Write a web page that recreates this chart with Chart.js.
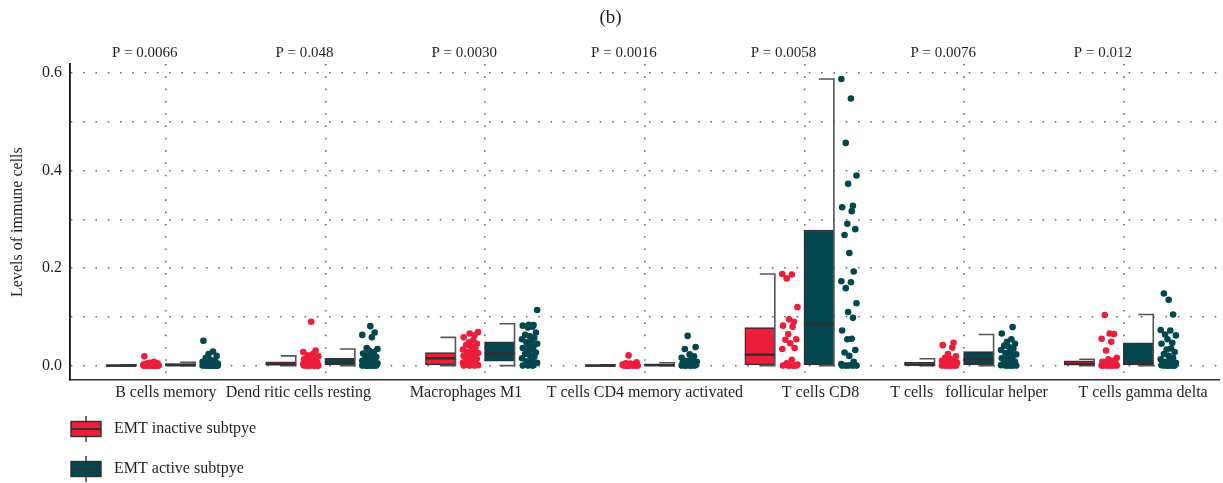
<!DOCTYPE html>
<html>
<head>
<meta charset="utf-8">
<script src="https://cdn.jsdelivr.net/npm/chart.js@4.4.1/dist/chart.umd.min.js"></script>
<style>
  html, body { margin: 0; padding: 0; background: #ffffff; }
  #wrap { width: 1223px; height: 483px; }
</style>
</head>
<body>
<div id="wrap"><canvas id="chart" width="1223" height="483"></canvas></div>
<script>
// ---- data -------------------------------------------------------------
const categories = [
  'B cells memory',
  'Dend ritic cells resting',
  'Macrophages M1',
  'T cells CD4 memory activated',
  'T cells CD8',
  'T cells   follicular helper',
  'T cells gamma delta'
];
const pValueLabels = ['P = 0.0066', 'P = 0.048', 'P = 0.0030', 'P = 0.0016', 'P = 0.0058', 'P = 0.0076', 'P = 0.012'];
const seriesNames = ['EMT inactive subtpye', 'EMT active subtpye'];

const yTickValues = [0, 0.1, 0.2, 0.3, 0.4, 0.5, 0.6];
const yTickLabels = ['0.0', '', '0.2', '', '0.4', '', '0.6'];

// box statistics, EMT inactive
const inactiveLow    = [0, 0, 0, 0, 0, 0, 0];
const inactiveQ1     = [0, 0, 0, 0, 0, 0, 0];
const inactiveMedian = [0, 0.003, 0.015, 0, 0.0225, 0.002, 0.0035];
const inactiveQ3     = [0.0015, 0.008, 0.0266, 0.0015, 0.078, 0.007, 0.0096];
const inactiveHigh   = [0.0015, 0.020, 0.058, 0.0015, 0.188, 0.014, 0.013];

// box statistics, EMT active
const activeLow    = [0, 0, 0, 0, 0, 0, 0];
const activeQ1     = [0, 0, 0.009, 0, 0, 0, 0];
const activeMedian = [0.001, 0.006, 0.025, 0.001, 0.085, 0.013, 0.005];
const activeQ3     = [0.004, 0.015, 0.049, 0.003, 0.278, 0.029, 0.047];
const activeHigh   = [0.007, 0.034, 0.086, 0.006, 0.588, 0.064, 0.105];

// individual samples, EMT inactive (one list per cell type)
const inactiveBMem   = [0.019, 0.008, 0.006, 0.005, 0.004, 0.003, 0.002, 0.002, 0.001, 0.001, 0, 0, 0, 0, 0, 0, 0, 0, 0, 0, 0, 0];
const inactiveDend   = [0.090, 0.031, 0.028, 0.024, 0.021, 0.019, 0.017, 0.015, 0.013, 0.011, 0.009, 0.007, 0.006, 0.005, 0.004, 0.003, 0.002, 0.001, 0, 0, 0, 0, 0, 0, 0, 0];
const inactiveMacM1  = [0.069, 0.066, 0.062, 0.058, 0.052, 0.048, 0.045, 0.042, 0.039, 0.036, 0.033, 0.030, 0.028, 0.026, 0.024, 0.022, 0.020, 0.018, 0.016, 0.014, 0.012, 0.010, 0.008, 0.006, 0.004, 0.002, 0.001, 0, 0, 0];
const inactiveCD4    = [0.021, 0.007, 0.005, 0.004, 0.003, 0.002, 0.001, 0, 0, 0, 0, 0, 0, 0, 0, 0];
const inactiveCD8    = [0.188, 0.187, 0.179, 0.120, 0.095, 0.090, 0.082, 0.080, 0.065, 0.054, 0.053, 0.046, 0.036, 0.034, 0.012, 0.005, 0.002, 0, 0, 0, 0, 0, 0];
const inactiveTfh    = [0.047, 0.042, 0.037, 0.024, 0.019, 0.016, 0.014, 0.012, 0.010, 0.008, 0.007, 0.006, 0.005, 0.004, 0.003, 0.002, 0.001, 0, 0, 0, 0, 0, 0, 0];
const inactiveGD     = [0.104, 0.066, 0.065, 0.055, 0.049, 0.031, 0.016, 0.013, 0.010, 0.008, 0.006, 0.005, 0.004, 0.003, 0.002, 0.001, 0, 0, 0, 0, 0, 0, 0];

// individual samples, EMT active
const activeBMem   = [0.051, 0.029, 0.024, 0.020, 0.016, 0.012, 0.010, 0.008, 0.006, 0.005, 0.004, 0.003, 0.002, 0.001, 0, 0, 0, 0, 0, 0, 0, 0, 0, 0];
const activeDend   = [0.081, 0.068, 0.063, 0.058, 0.036, 0.034, 0.031, 0.028, 0.025, 0.022, 0.020, 0.018, 0.016, 0.014, 0.012, 0.010, 0.008, 0.006, 0.005, 0.004, 0.003, 0.002, 0.001, 0, 0, 0, 0, 0, 0, 0, 0];
const activeMacM1  = [0.114, 0.084, 0.083, 0.082, 0.080, 0.078, 0.068, 0.063, 0.060, 0.057, 0.054, 0.051, 0.048, 0.045, 0.042, 0.039, 0.036, 0.033, 0.030, 0.027, 0.024, 0.021, 0.018, 0.015, 0.012, 0.009, 0.006, 0.003, 0.001, 0, 0, 0];
const activeCD4    = [0.061, 0.038, 0.034, 0.023, 0.019, 0.016, 0.013, 0.010, 0.008, 0.006, 0.005, 0.004, 0.003, 0.002, 0.001, 0, 0, 0, 0, 0, 0];
const activeCD8    = [0.588, 0.548, 0.457, 0.390, 0.373, 0.328, 0.325, 0.317, 0.291, 0.280, 0.268, 0.231, 0.193, 0.173, 0.171, 0.159, 0.128, 0.110, 0.098, 0.072, 0.055, 0.054, 0.032, 0.027, 0.020, 0.008, 0.003, 0.001, 0, 0, 0, 0, 0];
const activeTfh    = [0.079, 0.066, 0.054, 0.049, 0.045, 0.041, 0.038, 0.035, 0.032, 0.029, 0.026, 0.023, 0.020, 0.018, 0.015, 0.012, 0.010, 0.008, 0.006, 0.004, 0.002, 0.001, 0, 0, 0, 0, 0];
const activeGD     = [0.148, 0.135, 0.105, 0.073, 0.072, 0.064, 0.062, 0.054, 0.047, 0.045, 0.035, 0.033, 0.028, 0.024, 0.020, 0.016, 0.013, 0.010, 0.008, 0.006, 0.004, 0.002, 0.001, 0, 0, 0, 0, 0, 0];

const inactiveSamples = [inactiveBMem, inactiveDend, inactiveMacM1, inactiveCD4, inactiveCD8, inactiveTfh, inactiveGD];
const activeSamples   = [activeBMem, activeDend, activeMacM1, activeCD4, activeCD8, activeTfh, activeGD];

// ---- layout & style ---------------------------------------------------
const RED = '#ec1e3b';
const TEAL = '#02474f';
const EDGE = '#303030';
const WHISKER = '#555555';
const TEXT = '#231f20';
const SERIF = '"Liberation Serif", "DejaVu Serif", serif';

const X_MIN = -0.6, X_MAX = 6.6;
const Y_MIN = -0.0295, Y_MAX = 0.6185;
// horizontal placement of the category captions along the axis
const captionPos = [0.0, 0.83, 1.88, 3.0, 4.1, 5.03, 6.12];
const boxShift = [-0.28, 0.09];
const dotShift = [-0.092, 0.278];
const dotSpread = 0.05;
const jitter = [-0.85, 0.35, -0.2, 0.8, -0.55, 0.05, 0.6, -0.95, 0.25, -0.4, 0.95, -0.1, 0.5];
const dotted = [1.6, 10.7];

function boxData(q1, q3, s) {
  return categories.map((_, i) => ({ x: i + boxShift[s], y: [q1[i], q3[i]] }));
}
function dotData(samples, s) {
  const pts = [];
  samples.forEach((list, i) => {
    list.forEach((v, j) => {
      pts.push({ x: i + dotShift[s] + jitter[(j + i * 5) % jitter.length] * dotSpread, y: v });
    });
  });
  return pts;
}

const boxStats = [
  { low: inactiveLow, median: inactiveMedian, high: inactiveHigh },
  { low: activeLow, median: activeMedian, high: activeHigh }
];

// medians and one-sided whisker brackets on the right edge of each box
const boxDecor = {
  id: 'boxDecor',
  afterDatasetsDraw(chart) {
    const ctx = chart.ctx;
    const y = chart.scales.y;
    [0, 1].forEach(s => {
      const meta = chart.getDatasetMeta(s);
      const st = boxStats[s];
      meta.data.forEach((el, i) => {
        const half = el.width / 2;
        const xr = el.x + half;
        const yHi = y.getPixelForValue(st.high[i]);
        const yLo = y.getPixelForValue(st.low[i]);
        ctx.save();
        ctx.strokeStyle = WHISKER;
        ctx.lineWidth = 1.6;
        ctx.beginPath();
        ctx.moveTo(xr - half, yHi);
        ctx.lineTo(xr, yHi);
        ctx.lineTo(xr, yLo);
        ctx.lineTo(xr - half, yLo);
        ctx.stroke();
        const ym = y.getPixelForValue(st.median[i]);
        ctx.strokeStyle = EDGE;
        ctx.lineWidth = 2.6;
        ctx.beginPath();
        ctx.moveTo(el.x - half, ym);
        ctx.lineTo(el.x + half, ym);
        ctx.stroke();
        ctx.restore();
      });
    });
  }
};

// vertical legend with box glyphs under the plot
const boxLegend = {
  id: 'boxLegend',
  afterDraw(chart) {
    const ctx = chart.ctx;
    const area = chart.chartArea;
    const colors = [RED, TEAL];
    seriesNames.forEach((name, k) => {
      const cy = area.bottom + 49 + k * 40;
      const x0 = area.left + 1;
      const w = 30, h = 15;
      ctx.save();
      ctx.strokeStyle = EDGE;
      ctx.lineWidth = 1.4;
      ctx.beginPath();
      ctx.moveTo(x0 + w / 2, cy - 13);
      ctx.lineTo(x0 + w / 2, cy + 13);
      ctx.stroke();
      ctx.fillStyle = colors[k];
      ctx.fillRect(x0, cy - h / 2, w, h);
      ctx.strokeRect(x0, cy - h / 2, w, h);
      ctx.lineWidth = 1.8;
      ctx.beginPath();
      ctx.moveTo(x0, cy);
      ctx.lineTo(x0 + w, cy);
      ctx.stroke();
      ctx.fillStyle = TEXT;
      ctx.font = '16px ' + SERIF;
      ctx.textBaseline = 'middle';
      ctx.textAlign = 'left';
      ctx.fillText(name, x0 + 43, cy);
      ctx.restore();
    });
  }
};

const chart = new Chart(document.getElementById('chart'), {
  type: 'scatter',
  data: {
    datasets: [
      {
        type: 'bar', label: seriesNames[0], data: boxData(inactiveQ1, inactiveQ3, 0),
        backgroundColor: RED, borderColor: EDGE, borderWidth: 1.4, borderSkipped: false,
        barThickness: 30, grouped: false, xAxisID: 'x', yAxisID: 'y'
      },
      {
        type: 'bar', label: seriesNames[1], data: boxData(activeQ1, activeQ3, 1),
        backgroundColor: TEAL, borderColor: EDGE, borderWidth: 1.4, borderSkipped: false,
        barThickness: 30, grouped: false, xAxisID: 'x', yAxisID: 'y'
      },
      {
        type: 'scatter', label: seriesNames[0], data: dotData(inactiveSamples, 0),
        backgroundColor: RED, borderWidth: 0, pointRadius: 3.3, pointHoverRadius: 3.3,
        xAxisID: 'x', yAxisID: 'y'
      },
      {
        type: 'scatter', label: seriesNames[1], data: dotData(activeSamples, 1),
        backgroundColor: TEAL, borderWidth: 0, pointRadius: 3.3, pointHoverRadius: 3.3,
        xAxisID: 'x', yAxisID: 'y'
      }
    ]
  },
  options: {
    responsive: false,
    animation: false,
    devicePixelRatio: 1,
    layout: { padding: { left: 0, right: 2, top: 0, bottom: 73 } },
    plugins: {
      legend: { display: false },
      tooltip: { enabled: false },
      title: {
        display: true, text: '(b)', color: TEXT,
        font: { family: SERIF, size: 19, weight: 'normal' },
        padding: { top: 6.5, bottom: 6.5 }
      }
    },
    scales: {
      x: {
        type: 'linear', position: 'bottom', min: X_MIN, max: X_MAX, offset: false,
        grid: { display: false, drawTicks: false, offset: false },
        border: { display: true, color: '#333333', width: 1.5 },
        afterBuildTicks: s => { s.ticks = captionPos.map(v => ({ value: v })); },
        ticks: {
          autoSkip: false, minRotation: 0, maxRotation: 0, padding: 3, color: TEXT,
          font: { family: SERIF, size: 16 },
          callback: (v, i) => categories[i]
        },
        afterFit: s => { s.height = 30; }
      },
      xp: {
        type: 'linear', position: 'top', min: X_MIN, max: X_MAX, offset: false,
        grid: { display: true, drawTicks: false, offset: false, color: '#6b6b6b', lineWidth: 1.6 },
        border: { display: false, dash: dotted },
        afterBuildTicks: s => { s.ticks = categories.map((_, i) => ({ value: i })); },
        ticks: {
          autoSkip: false, minRotation: 0, maxRotation: 0, padding: 2, labelOffset: -21, color: TEXT,
          font: { family: SERIF, size: 15 },
          callback: (v, i) => pValueLabels[i]
        },
        afterFit: s => { s.height = 28.4; }
      },
      y: {
        type: 'linear', position: 'left', min: Y_MIN, max: Y_MAX,
        grid: { display: true, drawTicks: false, color: '#6b6b6b', lineWidth: 1.6 },
        border: { display: true, color: '#111111', width: 1.8, dash: dotted },
        afterBuildTicks: s => { s.ticks = yTickValues.map(v => ({ value: v })); },
        ticks: {
          padding: 8, color: TEXT, font: { family: SERIF, size: 16 },
          callback: (v, i) => yTickLabels[i]
        },
        title: {
          display: true, text: 'Levels of immune cells', color: TEXT,
          font: { family: SERIF, size: 16 }, padding: { top: 8, bottom: 0 }
        },
        afterFit: s => { s.width = 70; }
      }
    }
  },
  plugins: [boxDecor, boxLegend]
});
</script>
</body>
</html>
